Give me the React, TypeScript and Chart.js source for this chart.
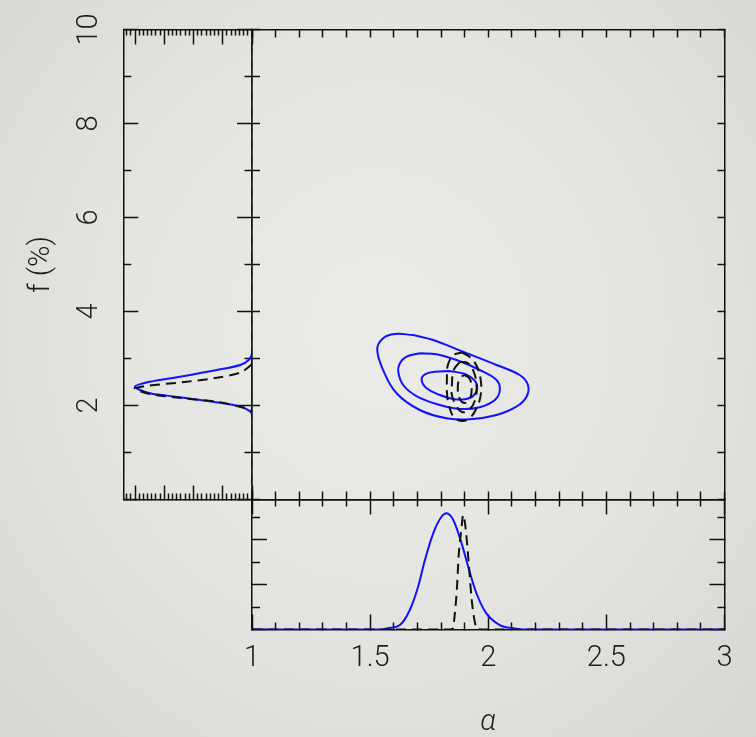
import React, { useEffect, useRef } from "react";
import { Chart, registerables } from "chart.js";
Chart.register(...registerables);

// ---------------- data ----------------
const alphaLimits = [1, 3];
const fLimits = [0, 10];
const alphaDensityLimits = [0, 5.81];
const fDensityLimits = [0, 30.8];

const alphaTickLabels = ["1", "1.5", "2", "2.5", "3"];
const fTickLabels = ["2", "4", "6", "8", "10"];
const alphaTitle = "α";
const fTitle = "f (%)";

// 2-D contours, [alpha, f]
const blueOuter = [
  [1.682, 3.5], [1.767, 3.394], [1.893, 3.145], [2.035, 2.862], [2.133, 2.649], [2.168, 2.436],
  [2.162, 2.187], [2.119, 1.974], [2.035, 1.798], [1.922, 1.706], [1.823, 1.728], [1.71, 1.904],
  [1.612, 2.26], [1.555, 2.755], [1.53, 3.2], [1.555, 3.43], [1.605, 3.52],
];
const blueMiddle = [
  [1.71, 3.111], [1.781, 3.089], [1.866, 2.968], [1.964, 2.755], [2.035, 2.543], [2.049, 2.33],
  [2.028, 2.117], [1.964, 1.962], [1.88, 1.926], [1.795, 2.011], [1.696, 2.202], [1.64, 2.436],
  [1.619, 2.719], [1.626, 2.898], [1.654, 3.038],
];
const blueInner = [
  [1.837, 2.734], [1.901, 2.67], [1.943, 2.528], [1.953, 2.366], [1.936, 2.202], [1.901, 2.132],
  [1.858, 2.132], [1.795, 2.223], [1.739, 2.366], [1.718, 2.543], [1.732, 2.664], [1.774, 2.719],
];
const dashOuter = [
  [1.888, 3.128], [1.922, 3.032], [1.951, 2.84], [1.968, 2.543], [1.968, 2.223], [1.951, 1.947],
  [1.922, 1.734], [1.888, 1.67], [1.854, 1.755], [1.833, 2.011], [1.825, 2.287], [1.825, 2.543],
  [1.829, 2.862], [1.854, 3.074],
];
const dashMiddle = [
  [1.88, 2.926], [1.913, 2.904], [1.939, 2.713], [1.951, 2.394], [1.943, 2.096], [1.918, 1.904],
  [1.888, 1.862], [1.863, 2.011], [1.846, 2.223], [1.846, 2.436], [1.854, 2.755],
];
const dashInner = [
  [1.901, 2.649], [1.922, 2.564], [1.93, 2.351], [1.922, 2.138], [1.901, 2.053], [1.88, 2.138],
  [1.871, 2.372], [1.88, 2.585],
];

// alpha marginal
const alphaGridBlue = [1.0, 1.55, 1.574, 1.626, 1.668, 1.703, 1.732, 1.767, 1.802, 1.823, 1.844, 1.858, 1.887, 1.915, 1.95, 1.992, 2.049, 2.105, 2.154, 3.0];
const alphaDensBlue = [0, 0, 0.054, 0.2, 0.87, 1.91, 3.11, 4.3, 5.04, 5.2, 5.04, 4.75, 3.86, 2.81, 1.62, 0.72, 0.2, 0.054, 0, 0];
const alphaGridDash = [1.0, 1.837, 1.85, 1.858, 1.867, 1.875, 1.886, 1.894, 1.905, 1.918, 1.93, 1.943, 1.953, 1.973, 3.0];
const alphaDensDash = [0, 0, 0.045, 0.65, 1.77, 3.33, 4.45, 5.12, 4.45, 2.88, 1.32, 0.34, 0.02, 0, 0];

// f marginal (density plotted leftwards)
const fGridBlue = [0, 1.8, 1.919, 2.011, 2.117, 2.21, 2.26, 2.4, 2.506, 2.613, 2.755, 2.862, 2.968, 3.11, 10];
const fDensBlue = [0, 0, 1.2, 4.4, 12.4, 20.4, 24.4, 28.0, 24.4, 17.2, 8.4, 2.8, 0.8, 0, 0];
const fGridDash = [0, 1.85, 1.905, 1.974, 2.08, 2.153, 2.245, 2.37, 2.506, 2.59, 2.7, 2.86, 2.92, 10];
const fDensDash = [0, 0, 0.4, 2.8, 8.4, 16.4, 24.4, 28.0, 15.6, 8.4, 2.8, 0.24, 0, 0];

// ---------------- styles ----------------
const W = 756;
const H = 737;
const FONT = "Roboto, 'Noto Sans', 'DejaVu Sans', sans-serif";
const TEXT = "#1e1e1e";
const INK = "#111111";
const BLUE = "rgb(18,18,255)";
const DASH = [10, 6];

const isHalf = (v: number) => Math.abs(v * 2 - Math.round(v * 2)) < 1e-6;
const isEven = (v: number) => Math.round(v) % 2 === 0;
const isSeventh = (v: number) => Math.round(v) % 7 === 0;
const always = () => true;

function tickDash(isMajor: (v: number) => boolean, majorLen: number, minorLen: number, inside: boolean) {
  return (ctx: any) => {
    const v = ctx && ctx.tick ? ctx.tick.value : NaN;
    if (isMajor(v)) return [];
    return inside ? [0, majorLen - minorLen, minorLen, 1000] : [minorLen, 1000];
  };
}

function edge(o: any) {
  const horizontal = o.position === "top" || o.position === "bottom";
  const inside = o.position === "top" || o.position === "left";
  return {
    type: "linear",
    axis: horizontal ? "x" : "y",
    position: o.position,
    min: o.lim[0],
    max: o.lim[1],
    reverse: !!o.reverse,
    grid: {
      display: true,
      drawOnChartArea: false,
      drawTicks: true,
      tickLength: -o.majorLen,
      tickWidth: 1.5,
      tickColor: INK,
      tickBorderDash: tickDash(o.major || always, o.majorLen, o.minorLen, inside),
    },
    border: { display: true, color: INK, width: 1.5 },
    ticks: Object.assign(
      { display: false, stepSize: o.step, includeBounds: false, autoSkip: false },
      o.ticks || {}
    ),
    title: o.title || { display: false },
    afterFit: (s: any) => {
      if (horizontal) s.height = o.size || 0;
      else s.width = o.size || 0;
      s.paddingLeft = 0;
      s.paddingRight = 0;
      s.paddingTop = 0;
      s.paddingBottom = 0;
    },
  };
}

const pairs = (pts: number[][]) => [...pts, pts[0]].map(([a, f]) => ({ x: a, y: f }));
const zipXY = (xs: number[], ys: number[]) => xs.map((x, i) => ({ x, y: ys[i] }));

function lineDs(data: any[], dashed: boolean, extra: any = {}) {
  return Object.assign(
    {
      data,
      showLine: true,
      fill: false,
      borderColor: dashed ? INK : BLUE,
      borderWidth: 2,
      borderDash: dashed ? DASH : [],
      pointRadius: 0,
      pointHoverRadius: 0,
      tension: 0.4,
    },
    extra
  );
}

const common = {
  responsive: false,
  animation: false,
  events: [],
  plugins: { legend: { display: false }, tooltip: { enabled: false } },
};

function mainConfig(): any {
  return {
    type: "scatter",
    data: {
      datasets: [
        lineDs(pairs(dashOuter), true, { xAxisID: "ax", yAxisID: "fy" }),
        lineDs(pairs(dashMiddle), true, { xAxisID: "ax", yAxisID: "fy" }),
        lineDs(pairs(dashInner), true, { xAxisID: "ax", yAxisID: "fy" }),
        lineDs(pairs(blueOuter), false, { xAxisID: "ax", yAxisID: "fy" }),
        lineDs(pairs(blueMiddle), false, { xAxisID: "ax", yAxisID: "fy" }),
        lineDs(pairs(blueInner), false, { xAxisID: "ax", yAxisID: "fy" }),
      ],
    },
    options: Object.assign({}, common, {
      layout: { padding: { left: 252, top: 29.5, right: W - 724.5, bottom: H - 499.5 } },
      scales: {
        ax: edge({ position: "bottom", lim: alphaLimits, step: 0.1, majorLen: 8, minorLen: 8 }),
        axTop: edge({ position: "top", lim: alphaLimits, step: 0.1, majorLen: 8, minorLen: 8 }),
        fy: edge({ position: "left", lim: fLimits, step: 1, majorLen: 8, minorLen: 8 }),
        fyR: edge({ position: "right", lim: fLimits, step: 1, majorLen: 7, minorLen: 7 }),
      },
    }),
  };
}

function leftConfig(labelPad: number): any {
  const tickFont = { family: FONT, size: 29, weight: "300", lineHeight: 1 };
  return {
    type: "scatter",
    data: {
      datasets: [
        lineDs(zipXY(fDensDash, fGridDash), true, { xAxisID: "ub", yAxisID: "fl", tension: 0.3 }),
        lineDs(zipXY(fDensBlue, fGridBlue), false, { xAxisID: "ub", yAxisID: "fl", tension: 0.3 }),
      ],
    },
    options: Object.assign({}, common, {
      layout: { padding: { left: 0, top: 29.5, right: W - 252, bottom: H - 499.5 } },
      scales: {
        ub: edge({ position: "bottom", lim: fDensityLimits, step: 1, reverse: true, major: isSeventh, majorLen: 14, minorLen: 7 }),
        ut: edge({ position: "top", lim: fDensityLimits, step: 1, reverse: true, major: isSeventh, majorLen: 15, minorLen: 6 }),
        fl: edge({
          position: "left",
          lim: fLimits,
          step: 1,
          major: isEven,
          majorLen: 15,
          minorLen: 8,
          size: 123.3,
          ticks: {
            display: true,
            minRotation: 90,
            maxRotation: 90,
            crossAlign: "center",
            padding: labelPad,
            color: TEXT,
            font: tickFont,
            callback: (v: number) => (fTickLabels.includes(String(v)) ? String(v) : ""),
          },
          title: {
            display: true,
            text: fTitle,
            color: TEXT,
            font: tickFont,
            padding: { top: 27.5, bottom: 0 },
          },
        }),
        fr: edge({ position: "right", lim: fLimits, step: 1, major: isEven, majorLen: 15, minorLen: 8 }),
      },
    }),
  };
}

function bottomConfig(): any {
  const tickFont = { family: FONT, size: 29, weight: "300", lineHeight: 1 };
  return {
    type: "scatter",
    data: {
      datasets: [
        lineDs(zipXY(alphaGridDash, alphaDensDash), true, { xAxisID: "bx", yAxisID: "by", cubicInterpolationMode: "monotone" }),
        lineDs(zipXY(alphaGridBlue, alphaDensBlue), false, { xAxisID: "bx", yAxisID: "by", cubicInterpolationMode: "monotone" }),
      ],
    },
    options: Object.assign({}, common, {
      layout: { padding: { left: 252, top: 499.5, right: W - 724.5, bottom: 0 } },
      scales: {
        bx: edge({
          position: "bottom",
          lim: alphaLimits,
          step: 0.1,
          major: isHalf,
          majorLen: 15,
          minorLen: 8,
          size: H - 629.5,
          ticks: {
            display: true,
            minRotation: 0,
            maxRotation: 0,
            padding: 29.4,
            color: TEXT,
            font: tickFont,
            callback: (v: number) => {
              const s = String(Math.round(v * 10) / 10);
              return alphaTickLabels.includes(s) ? s : "";
            },
          },
          title: {
            display: true,
            text: alphaTitle,
            color: TEXT,
            font: Object.assign({}, tickFont, { style: "italic" }),
            padding: { top: 0, bottom: 0 },
          },
        }),
        bxTop: edge({ position: "top", lim: alphaLimits, step: 0.1, major: isHalf, majorLen: 15, minorLen: 7 }),
        by: edge({ position: "left", lim: alphaDensityLimits, step: 1, major: isEven, majorLen: 15, minorLen: 8 }),
        byR: edge({ position: "right", lim: alphaDensityLimits, step: 1, major: isEven, majorLen: 15, minorLen: 8 }),
      },
    }),
  };
}

export default function App() {
  const mainRef = useRef<HTMLCanvasElement>(null);
  const leftRef = useRef<HTMLCanvasElement>(null);
  const bottomRef = useRef<HTMLCanvasElement>(null);

  useEffect(() => {
    const m = document.createElement("canvas").getContext("2d")!;
    m.font = `300 29px ${FONT}`;
    const widest = m.measureText("10").width;
    const labelPad = 123.3 + 15 - 89.5 - widest / 2;

    const charts = [
      new Chart(mainRef.current!, mainConfig()),
      new Chart(leftRef.current!, leftConfig(labelPad)),
      new Chart(bottomRef.current!, bottomConfig()),
    ];
    return () => charts.forEach((c) => c.destroy());
  }, []);

  const cv: React.CSSProperties = { position: "absolute", left: 0, top: 0, width: W, height: H };
  return (
    <div
      style={{
        position: "fixed",
        left: 0,
        top: 0,
        width: W,
        height: H,
        overflow: "hidden",
        background:
          "radial-gradient(ellipse at 50% 45%, #ebebe8 0%, #e4e4e1 50%, #d6d6d2 100%)",
      }}
    >
      <canvas ref={mainRef} width={W} height={H} style={cv} />
      <canvas ref={leftRef} width={W} height={H} style={cv} />
      <canvas ref={bottomRef} width={W} height={H} style={cv} />
    </div>
  );
}
